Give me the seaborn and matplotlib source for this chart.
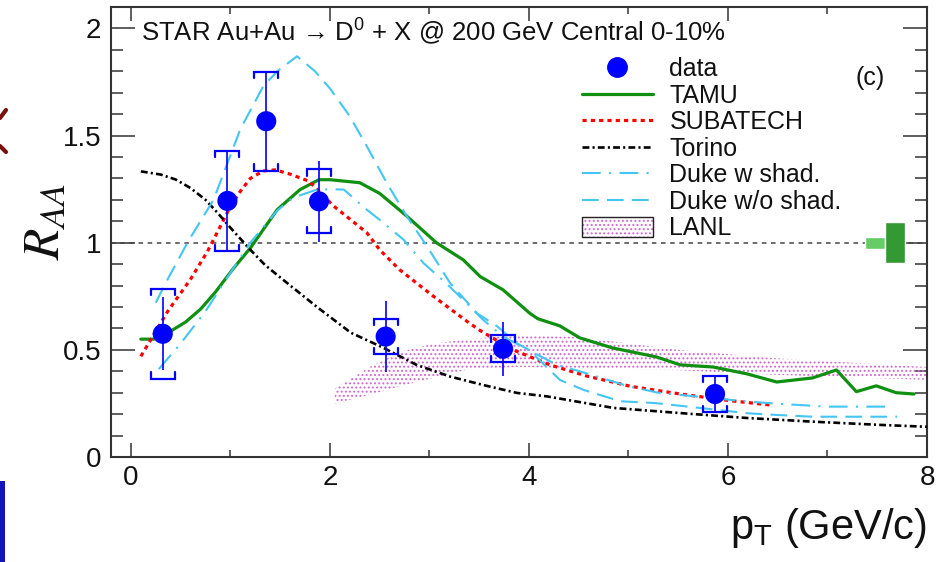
import numpy as np
import pandas as pd
import matplotlib
matplotlib.use("Agg")
import matplotlib.pyplot as plt
from matplotlib.lines import Line2D
from matplotlib.patches import Patch, Rectangle
from matplotlib.ticker import MultipleLocator
import seaborn as sns

# STAR D0 measurement, Au+Au 200 GeV, 0-10% central
pt_data = [0.32, 0.97, 1.36, 1.89, 2.56, 3.74, 5.87]
raa_data = [0.575, 1.195, 1.567, 1.193, 0.562, 0.505, 0.294]
stat_err = [0.17, 0.235, 0.235, 0.19, 0.165, 0.127, 0.085]
sys_err = [0.21, 0.235, 0.23, 0.15, 0.082, 0.063, 0.085]

# model curves
tamu_pt = [0.10, 0.23, 0.42, 0.55, 0.70, 0.85, 1.03, 1.20, 1.47, 1.70, 1.89, 2.00, 2.30,
           2.50, 2.77, 3.07, 3.34, 3.51, 3.74, 4.01, 4.09, 4.31, 4.51, 4.84, 5.28, 5.52,
           5.85, 6.19, 6.49, 6.85, 7.09, 7.29, 7.49, 7.69, 7.87]
tamu_raa = [0.55, 0.55, 0.593, 0.63, 0.69, 0.77, 0.88, 0.975, 1.154, 1.248, 1.294, 1.294,
            1.28, 1.23, 1.125, 1.00, 0.92, 0.842, 0.78, 0.67, 0.645, 0.612, 0.556, 0.509,
            0.467, 0.43, 0.42, 0.388, 0.35, 0.369, 0.406, 0.305, 0.332, 0.30, 0.294]

subatech_pt = [0.10, 0.37, 0.60, 0.77, 0.87, 1.00, 1.10, 1.20, 1.33, 1.45, 1.60, 1.79, 2.04,
               2.37, 2.50, 2.70, 3.04, 3.38, 3.51, 3.71, 3.84, 4.21, 4.58, 5.02, 5.52, 6.02,
               6.42]
subatech_raa = [0.47, 0.68, 0.83, 0.96, 1.05, 1.17, 1.24, 1.30, 1.335, 1.34, 1.32, 1.287,
                1.17, 1.047, 0.967, 0.874, 0.75, 0.632, 0.59, 0.535, 0.50, 0.43, 0.378, 0.33,
                0.294, 0.263, 0.243]

torino_pt = [0.10, 0.30, 0.45, 0.60, 0.75, 0.87, 1.00, 1.20, 1.35, 1.53, 1.87, 2.21, 2.54,
             2.87, 3.21, 3.54, 3.88, 4.18, 4.85, 5.52, 6.19, 6.85, 7.52, 8.00]
torino_raa = [1.333, 1.318, 1.295, 1.255, 1.20, 1.14, 1.07, 0.967, 0.895, 0.827, 0.70, 0.58,
              0.509, 0.43, 0.375, 0.336, 0.299, 0.283, 0.229, 0.205, 0.182, 0.165, 0.15, 0.141]

duke_shad_pt = [0.28, 0.50, 0.75, 1.00, 1.20, 1.47, 1.63, 1.85, 2.00, 2.14, 2.37, 2.50, 2.74,
                2.94, 3.17, 3.34, 3.54, 3.74, 4.28, 4.51, 5.00, 5.30, 6.19, 6.52, 7.00, 7.65]
duke_shad_raa = [0.41, 0.53, 0.68, 0.86, 1.00, 1.15, 1.21, 1.245, 1.25, 1.248, 1.154, 1.107,
                 1.014, 0.905, 0.81, 0.733, 0.64, 0.562, 0.43, 0.40, 0.33, 0.30, 0.259, 0.248,
                 0.235, 0.235]

duke_noshad_pt = [0.25, 0.37, 0.58, 0.83, 1.10, 1.33, 1.47, 1.67, 1.85, 2.00, 2.20, 2.39,
                  2.57, 2.77, 2.98, 3.21, 3.48, 3.68, 3.88, 4.00, 4.31, 4.55, 4.92, 5.26,
                  5.60, 6.20, 6.50, 6.85, 7.70]
duke_noshad_raa = [0.72, 0.83, 1.01, 1.20, 1.53, 1.73, 1.80, 1.87, 1.80, 1.72, 1.59, 1.434,
                   1.28, 1.125, 0.98, 0.81, 0.67, 0.61, 0.53, 0.50, 0.36, 0.313, 0.26, 0.252,
                   0.235, 0.204, 0.196, 0.188, 0.188]

lanl_pt = [2.05, 2.40, 2.70, 3.05, 3.40, 3.90, 4.50, 5.50, 6.50, 8.00]
lanl_low = [0.25, 0.29, 0.33, 0.37, 0.41, 0.42, 0.415, 0.405, 0.383, 0.36]
lanl_high = [0.32, 0.42, 0.49, 0.53, 0.55, 0.57, 0.56, 0.50, 0.46, 0.42]

# normalisation uncertainties around unity
norm_x = [7.48, 7.68]
norm_half = [0.029, 0.096]
norm_colors = ["#66cc66", "#339933"]

sns.set_theme(style="ticks")
plt.rcParams["font.family"] = ["Liberation Sans", "DejaVu Sans"]
plt.rcParams["mathtext.fontset"] = "custom"
plt.rcParams["mathtext.rm"] = "Liberation Sans"
plt.rcParams["mathtext.it"] = "Liberation Sans:italic"
plt.rcParams["hatch.linewidth"] = 0.9

AXC = "#333333"
TXT = "#111111"
PINK = "#d266d2"
fig = plt.figure(figsize=(9.4, 5.62), dpi=100)
ax = fig.add_axes([111 / 940, 1 - 457 / 562, 816 / 940, 450 / 562])

# LANL band
ax.fill_between(lanl_pt, lanl_low, lanl_high, facecolor="none",
                edgecolor=PINK, hatch="....", linewidth=0, zorder=1)

# unity reference
ax.axhline(1.0, color="#444444", lw=1.1, ls=(0, (3, 3)), zorder=1)

blue_l = "#44c6f2"
styles = {
    "TAMU": ("#109010", 2.3, "-"),
    "SUBATECH": ("#ff0000", 2.3, (0, (1.3, 1.3))),
    "Torino": ("#000000", 1.9, (0, (2.6, 1.2, 0.8, 1.2))),
    "Duke w shad.": (blue_l, 1.5, (0, (9, 4, 1, 4))),
    "Duke w/o shad.": (blue_l, 1.5, (0, (8, 4))),
}
curves = {
    "TAMU": (tamu_pt, tamu_raa),
    "SUBATECH": (subatech_pt, subatech_raa),
    "Torino": (torino_pt, torino_raa),
    "Duke w shad.": (duke_shad_pt, duke_shad_raa),
    "Duke w/o shad.": (duke_noshad_pt, duke_noshad_raa),
}
for name, (xs, ys) in curves.items():
    col, lw, ls = styles[name]
    sns.lineplot(x=xs, y=ys, ax=ax, color=col, linewidth=lw, linestyle=ls,
                 estimator=None, errorbar=None, sort=True, zorder=3)

# normalisation boxes
ax.bar(norm_x, [2 * h for h in norm_half], bottom=[1 - h for h in norm_half],
       width=0.2, color=norm_colors, zorder=2)

# data: statistical bars, systematic brackets, markers
x_arr = np.array(pt_data)
y_arr = np.array(raa_data)
st = np.array(stat_err)
sy = np.array(sys_err)
ax.vlines(x_arr, y_arr - st, y_arr + st, color="#0000ff", lw=1.2, zorder=4)
bw = 0.12
tip = 0.03
for xc, yc, s in zip(x_arr, y_arr, sy):
    for sgn in (1, -1):
        yb = yc + sgn * s
        ax.plot([xc - bw, xc - bw, xc + bw, xc + bw],
                [yb - sgn * tip, yb, yb, yb - sgn * tip],
                color="#0000ff", lw=1.6, zorder=4, solid_joinstyle="miter")
sns.scatterplot(x=pt_data, y=raa_data, ax=ax, color="#0000ff", s=210,
                edgecolor="none", zorder=5)

ax.set_xlim(-0.2, 8.0)
ax.set_ylim(0, 2.1)
ax.xaxis.set_major_locator(MultipleLocator(2))
ax.xaxis.set_minor_locator(MultipleLocator(1))
ax.yaxis.set_minor_locator(MultipleLocator(0.1))
ax.set_yticks([0, 0.5, 1, 1.5, 2])
ax.set_yticklabels(["0", "0.5", "1", "1.5", "2"])
for sp in ax.spines.values():
    sp.set_color(AXC)
    sp.set_linewidth(1.5)
    sp.set_visible(True)
ax.tick_params(axis="both", which="both", direction="in", top=True, right=True,
               color=AXC, width=1.1, labelsize=20, labelcolor=TXT)
ax.tick_params(axis="x", which="major", length=10, pad=6)
ax.tick_params(axis="x", which="minor", length=5)
ax.tick_params(axis="y", which="major", length=17, pad=7)
ax.tick_params(axis="y", which="minor", length=8.5)
ax.set_xlabel("")
ax.set_ylabel("")

fig.text(927 / 940, 1 - 528 / 562, r"p$_{\mathrm{T}}$ (GeV/c)", ha="right", va="center",
         fontsize=30, color=TXT)
fig.text(46 / 940, 1 - 222 / 562, r"$R_{AA}$", rotation=90, ha="center", va="center",
         fontsize=37, color=TXT, math_fontfamily="stix")

ax.text(0.1, 1.985, "STAR Au+Au \u2192 D$^{0}$ + X @ 200 GeV Central 0-10%",
        fontsize=18.5, ha="left", va="center", color=TXT)
ax.text(7.43, 1.77, "(c)", fontsize=18, ha="center", va="center", color=TXT)

handles = [
    Line2D([], [], marker="o", color="#0000ff", ls="none", markersize=14),
]
for name in curves:
    col, lw, ls = styles[name]
    handles.append(Line2D([], [], color=col, lw=lw, ls=ls))
# dotted pink fill inside a dark frame
handles.append((Patch(facecolor="white", edgecolor=PINK, hatch="....", lw=0),
                Patch(facecolor="none", edgecolor="#222222", lw=1.0)))
labels = ["data"] + list(curves) + ["LANL"]
leg = ax.legend(handles, labels, loc="upper left", bbox_to_anchor=(0.577, 0.888),
                frameon=False, fontsize=18, handlelength=2.85, handletextpad=0.65,
                labelspacing=0.1, borderaxespad=0, borderpad=0, handleheight=0.85)
for t in leg.get_texts():
    t.set_color(TXT)

# slivers of neighbouring panels at the left border
fig.add_artist(Line2D([0, 6 / 940], [1 - 146 / 562, 1 - 152 / 562], transform=fig.transFigure,
                      color="#7a1010", lw=3))
fig.add_artist(Line2D([0, 6 / 940], [1 - 118 / 562, 1 - 110 / 562], transform=fig.transFigure,
                      color="#7a1010", lw=3))
fig.patches.append(Rectangle((0, 0), 5 / 940, (562 - 481) / 562, transform=fig.transFigure,
                             facecolor="#1515b5", edgecolor="none"))

fig.savefig("out.png", dpi=100)
